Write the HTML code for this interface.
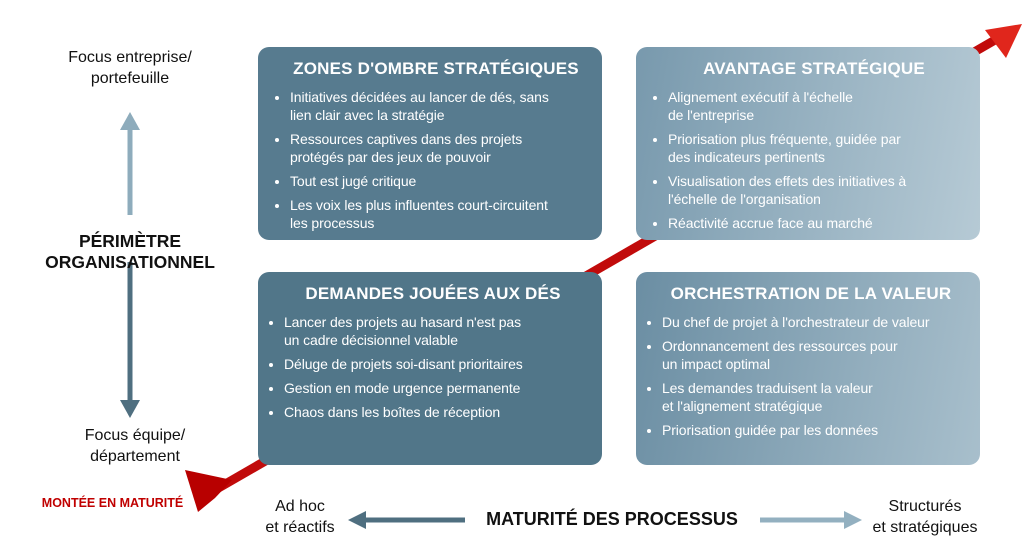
<!DOCTYPE html>
<html><head><meta charset="utf-8"><style>
body{margin:0;width:1024px;height:560px;background:#fff;font-family:"Liberation Sans",sans-serif;position:relative;overflow:hidden}
.box{position:absolute;width:344px;height:193px;border-radius:11px;color:#fff;box-sizing:border-box;padding:12px 8px 0 20px;white-space:nowrap}
.box h3{margin:0 0 9px;text-align:center;font-size:17px;font-weight:bold;letter-spacing:.2px}
.box ul{margin:0;padding:0 0 0 12px;font-size:14px;line-height:18px;letter-spacing:-.1px}
.box li{margin-bottom:6px}
.t{position:absolute;text-align:center;color:#111;font-size:16px;line-height:21px}
</style></head><body>
<svg width="1024" height="560" style="position:absolute;left:0;top:0">
<line x1="215" y1="490" x2="995" y2="40" stroke="#c10b0b" stroke-width="9"/>
<polygon points="1022,24 985,30 1006,58" fill="#e0261c"/>
<polygon points="185,470 232,480 215,498 198,512" fill="#b80000"/>
<line x1="130" y1="128" x2="130" y2="215" stroke="#8eacbc" stroke-width="5"/>
<polygon points="130,112 120,130 140,130" fill="#8eacbc"/>
<line x1="130" y1="262" x2="130" y2="402" stroke="#4f6f80" stroke-width="5"/>
<polygon points="130,418 120,400 140,400" fill="#4f6f80"/>
<line x1="365" y1="520" x2="465" y2="520" stroke="#4f6f80" stroke-width="5"/>
<polygon points="348,520 366,511 366,529" fill="#4f6f80"/>
<line x1="760" y1="520" x2="845" y2="520" stroke="#93b0c0" stroke-width="5"/>
<polygon points="862,520 844,511 844,529" fill="#93b0c0"/>
</svg>
<div class="box" style="left:258px;top:47px;background:#577b8f">
<h3>ZONES D'OMBRE STRATÉGIQUES</h3>
<ul><li>Initiatives décidées au lancer de dés, sans<br>lien clair avec la stratégie</li><li>Ressources captives dans des projets<br>protégés par des jeux de pouvoir</li><li>Tout est jugé critique</li><li>Les voix les plus influentes court-circuitent<br>les processus</li></ul></div>
<div class="box" style="left:636px;top:47px;background:linear-gradient(100deg,#7899ad,#b6cad5)">
<h3>AVANTAGE STRATÉGIQUE</h3>
<ul><li>Alignement exécutif à l'échelle<br>de l'entreprise</li><li>Priorisation plus fréquente, guidée par<br>des indicateurs pertinents</li><li>Visualisation des effets des initiatives à<br>l'échelle de l'organisation</li><li>Réactivité accrue face au marché</li></ul></div>
<div class="box" style="left:258px;top:272px;background:#517689;padding-left:14px">
<h3>DEMANDES JOUÉES AUX DÉS</h3>
<ul><li>Lancer des projets au hasard n'est pas<br>un cadre décisionnel valable</li><li>Déluge de projets soi-disant prioritaires</li><li>Gestion en mode urgence permanente</li><li>Chaos dans les boîtes de réception</li></ul></div>
<div class="box" style="left:636px;top:272px;background:linear-gradient(100deg,#6b8ea3,#a8bfcc);padding-left:14px">
<h3>ORCHESTRATION DE LA VALEUR</h3>
<ul><li>Du chef de projet à l'orchestrateur de valeur</li><li>Ordonnancement des ressources pour<br>un impact optimal</li><li>Les demandes traduisent la valeur<br>et l'alignement stratégique</li><li>Priorisation guidée par les données</li></ul></div>
<div class="t" style="left:40px;top:47px;width:180px">Focus entreprise/<br>portefeuille</div>
<div class="t" style="left:15px;top:231px;width:230px;font-weight:bold;font-size:17.5px">PÉRIMÈTRE<br>ORGANISATIONNEL</div>
<div class="t" style="left:45px;top:425px;width:180px">Focus équipe/<br>département</div>
<div class="t" style="left:20px;top:493px;width:185px;color:#c00000;font-weight:bold;font-size:12.5px">MONTÉE EN MATURITÉ</div>
<div class="t" style="left:240px;top:496px;width:120px">Ad hoc<br>et réactifs</div>
<div class="t" style="left:462px;top:509px;width:300px;font-weight:bold;font-size:18px">MATURITÉ DES PROCESSUS</div>
<div class="t" style="left:850px;top:496px;width:150px">Structurés<br>et stratégiques</div>
</body></html>
